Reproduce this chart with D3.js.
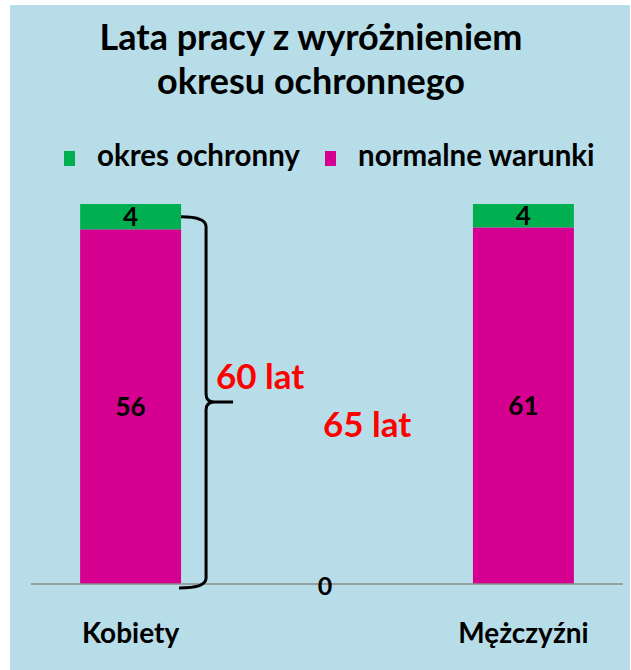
<!DOCTYPE html>
<html>
<head>
<meta charset="utf-8">
<script src="https://cdn.jsdelivr.net/npm/d3@7"></script>
<style>
  body { margin: 0; background: #fff; }
  text { font-family: Lato, "Open Sans", sans-serif; }
</style>
</head>
<body>
<svg id="chart"></svg>
<script>
// chart data
const categories = ['Kobiety', 'Mężczyźni'];
const seriesNames = ['normalne warunki', 'okres ochronny'];
const normalne = [56, 61];
const ochronny = [4, 4];
const totalLabels = ['60 lat', '65 lat'];

const width = 631;
const height = 670;

const svg = d3.select('#chart')
  .attr('width', width)
  .attr('height', height);

// background panel
svg.append('rect')
  .attr('x', 10).attr('y', 5)
  .attr('width', 620).attr('height', 665)
  .attr('fill', '#b7dde8');

// title
svg.append('text')
  .attr('x', 311).attr('y', 50)
  .attr('text-anchor', 'middle')
  .attr('font-size', 36).attr('font-weight', 'bold')
  .text('Lata pracy z wyróżnieniem');
svg.append('text')
  .attr('x', 311).attr('y', 94)
  .attr('text-anchor', 'middle')
  .attr('font-size', 36).attr('font-weight', 'bold')
  .text('okresu ochronnego');

const colors = { 'okres ochronny': '#00b050', 'normalne warunki': '#d5008f' };

// legend
const legendItems = [
  { name: 'okres ochronny', x: 64 },
  { name: 'normalne warunki', x: 325 }
];
const lg = svg.selectAll('.legend')
  .data(legendItems)
  .enter().append('g')
  .attr('transform', d => `translate(${d.x},151)`);
lg.append('rect')
  .attr('width', 11).attr('height', 15)
  .attr('fill', d => colors[d.name]);
lg.append('text')
  .attr('x', 33).attr('y', 15)
  .attr('font-size', 29.5).attr('font-weight', 'bold')
  .text(d => d.name);

// scales
const x = d3.scaleBand()
  .domain(categories)
  .range([31, 623])
  .paddingInner(0.743)
  .paddingOuter(0.125);

const y = d3.scaleLinear()
  .domain([0, 1])
  .range([584, 204]);

// 100% stacked data
const rows = categories.map((c, i) => {
  const total = normalne[i] + ochronny[i];
  return {
    cat: c,
    'normalne warunki': normalne[i] / total,
    'okres ochronny': ochronny[i] / total,
    raw: { 'normalne warunki': normalne[i], 'okres ochronny': ochronny[i] }
  };
});

const stack = d3.stack().keys(seriesNames);
const layers = stack(rows);

const layer = svg.selectAll('.layer')
  .data(layers)
  .enter().append('g')
  .attr('fill', d => colors[d.key]);

layer.selectAll('rect')
  .data(d => d.map(p => ({ key: d.key, p })))
  .enter().append('rect')
  .attr('x', d => x(d.p.data.cat))
  .attr('width', x.bandwidth())
  .attr('y', d => y(d.p[1]))
  .attr('height', d => y(d.p[0]) - y(d.p[1]));

layer.selectAll('text')
  .data(d => d.map(p => ({ key: d.key, p })))
  .enter().append('text')
  .attr('x', d => x(d.p.data.cat) + x.bandwidth() / 2)
  .attr('y', d => y((d.p[0] + d.p[1]) / 2))
  .attr('dy', '0.36em')
  .attr('text-anchor', 'middle')
  .attr('font-size', 26).attr('font-weight', 'bold')
  .attr('fill', '#000')
  .text(d => d.p.data.raw[d.key]);

// baseline
svg.append('line')
  .attr('x1', 31).attr('x2', 623)
  .attr('y1', y(0)).attr('y2', y(0))
  .attr('stroke', '#8c8c8c').attr('stroke-width', 1.5);

svg.append('text')
  .attr('x', 325).attr('y', y(0) + 2)
  .attr('dy', '0.36em')
  .attr('text-anchor', 'middle')
  .attr('font-size', 25).attr('font-weight', 'bold')
  .text('0');

// category labels
svg.selectAll('.cat')
  .data(categories)
  .enter().append('text')
  .attr('x', d => x(d) + x.bandwidth() / 2)
  .attr('y', 643)
  .attr('text-anchor', 'middle')
  .attr('font-size', 28).attr('font-weight', 'bold')
  .text(d => d);

// curly brace next to Kobiety bar
const bx = x('Kobiety') + x.bandwidth();
const yTop = y(1 - rows[0]['okres ochronny'] / 2);
const yBot = y(0) + 4;
const yMid = 402;
svg.append('path')
  .attr('d', `M${bx},${yTop} Q${bx + 25},${yTop} ${bx + 25},${yTop + 10}
    L${bx + 25},${yMid - 8} Q${bx + 25},${yMid} ${bx + 33},${yMid} L${bx + 52},${yMid}
    M${bx + 33},${yMid} Q${bx + 25},${yMid} ${bx + 25},${yMid + 8}
    L${bx + 25},${yBot - 10} Q${bx + 25},${yBot} ${bx - 2},${yBot}`)
  .attr('fill', 'none')
  .attr('stroke', '#000')
  .attr('stroke-width', 3);

// total labels
svg.append('text')
  .attr('x', 216).attr('y', 389)
  .attr('font-size', 35).attr('font-weight', 'bold')
  .attr('fill', '#ff0000')
  .text(totalLabels[0]);
svg.append('text')
  .attr('x', 323).attr('y', 437)
  .attr('font-size', 35).attr('font-weight', 'bold')
  .attr('fill', '#ff0000')
  .text(totalLabels[1]);
</script>
</body>
</html>
